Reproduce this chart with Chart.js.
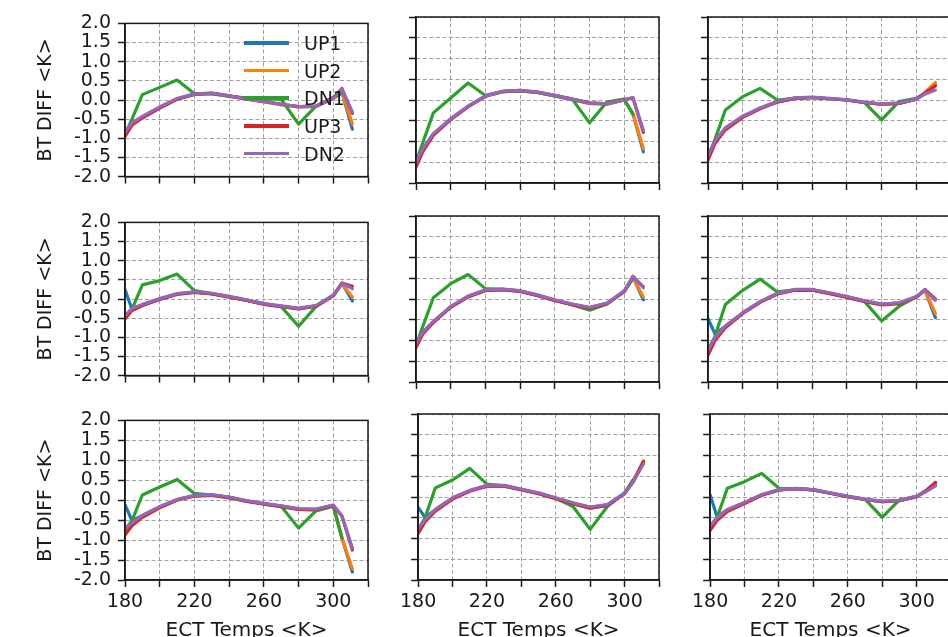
<!DOCTYPE html>
<html>
<head>
<meta charset="utf-8">
<title>BT DIFF panels</title>
<script src="https://cdn.jsdelivr.net/npm/chart.js@4.4.0/dist/chart.umd.min.js"></script>
<style>
  body {
    margin: 0;
    width: 948px;
    height: 637px;
    overflow: hidden;
    position: relative;
    background: #fff;
    font-family: "DejaVu Sans", sans-serif;
  }
  canvas.panel {
    position: absolute;
  }
  #legend {
    position: absolute;
    left: 244px;
    top: 29px;
    color: #1a1a1a;
    font-size: 19px;
  }
  #legend .row {
    display: flex;
    align-items: center;
    height: 27.7px;
  }
  #legend .swatch {
    width: 45px;
    height: 3.5px;
    margin-right: 15px;
  }
</style>
</head>
<body>
<div id="legend"></div>
<script>
// x positions of the samples (ECT temperature, K)
const temps = [180, 184, 190, 200, 210, 220, 230, 240, 250, 260, 270, 280, 290, 300, 305, 311];

const seriesNames = ["UP1", "UP2", "DN1", "UP3", "DN2"];
const seriesColors = ["#1f77b4", "#ff7f0e", "#2ca02c", "#d62728", "#9467bd"];

const xTickLabels = [180, 220, 260, 300];

// each panel: rows are UP1, UP2, DN1, UP3, DN2 (DN1 has no last sample)
const panelR1C1 = [
  [-0.86, -0.62, -0.45, -0.19, 0.03, 0.15, 0.17, 0.1, 0.03, -0.04, -0.12, -0.18, -0.17, 0.04, 0.2, -0.76],
  [-0.87, -0.62, -0.45, -0.2, 0.02, 0.14, 0.17, 0.1, 0.02, -0.05, -0.12, -0.18, -0.17, 0.05, 0.2, -0.62],
  [-0.9, -0.5, 0.14, 0.33, 0.52, 0.16, 0.16, 0.1, 0.05, 0.03, 0.02, -0.63, -0.16, 0.07, 0.17, null],
  [-0.95, -0.66, -0.47, -0.21, 0.02, 0.15, 0.18, 0.11, 0.03, -0.04, -0.11, -0.17, -0.16, 0.06, 0.3, -0.35],
  [-0.84, -0.6, -0.43, -0.18, 0.04, 0.16, 0.18, 0.11, 0.03, -0.04, -0.11, -0.17, -0.16, 0.05, 0.28, -0.32],
];
const panelR1C2 = [
  [-1.52, -1.18, -0.82, -0.46, -0.16, 0.09, 0.2, 0.22, 0.18, 0.1, 0.01, -0.08, -0.1, 0.0, -0.33, -1.25],
  [-1.53, -1.19, -0.83, -0.46, -0.16, 0.09, 0.2, 0.22, 0.18, 0.1, 0.01, -0.08, -0.1, 0.0, -0.33, -1.17],
  [-1.5, -1.02, -0.31, 0.05, 0.41, 0.11, 0.2, 0.22, 0.18, 0.1, 0.02, -0.55, -0.05, 0.02, -0.35, null],
  [-1.62, -1.24, -0.85, -0.47, -0.16, 0.1, 0.21, 0.23, 0.19, 0.11, 0.02, -0.07, -0.09, 0.01, 0.05, -0.78],
  [-1.5, -1.17, -0.81, -0.45, -0.15, 0.1, 0.21, 0.23, 0.19, 0.11, 0.02, -0.07, -0.09, 0.0, 0.06, -0.73],
];
const panelR1C3 = [
  [-1.35, -1.0, -0.69, -0.4, -0.2, -0.04, 0.04, 0.06, 0.03, 0.0, -0.06, -0.1, -0.08, 0.02, 0.16, 0.36],
  [-1.36, -1.01, -0.69, -0.41, -0.2, -0.04, 0.04, 0.06, 0.03, 0.0, -0.06, -0.1, -0.08, 0.02, 0.18, 0.42],
  [-1.4, -0.95, -0.24, 0.08, 0.28, 0.0, 0.04, 0.06, 0.03, 0.0, -0.06, -0.48, -0.04, 0.04, 0.16, null],
  [-1.45, -1.05, -0.72, -0.42, -0.21, -0.05, 0.04, 0.06, 0.03, 0.0, -0.06, -0.1, -0.08, 0.02, 0.17, 0.34],
  [-1.33, -0.99, -0.67, -0.39, -0.19, -0.03, 0.05, 0.07, 0.04, 0.01, -0.05, -0.09, -0.07, 0.02, 0.14, 0.24],
];
const panelR2C1 = [
  [0.25, -0.27, -0.16, 0.0, 0.13, 0.18, 0.14, 0.06, -0.03, -0.13, -0.19, -0.25, -0.18, 0.09, 0.41, -0.05],
  [-0.46, -0.27, -0.16, 0.0, 0.13, 0.18, 0.14, 0.06, -0.03, -0.13, -0.19, -0.25, -0.18, 0.09, 0.4, 0.05],
  [-0.46, -0.27, 0.37, 0.48, 0.65, 0.22, 0.14, 0.06, -0.03, -0.12, -0.2, -0.71, -0.2, 0.1, 0.4, null],
  [-0.52, -0.3, -0.17, -0.01, 0.12, 0.17, 0.13, 0.05, -0.04, -0.14, -0.2, -0.26, -0.19, 0.08, 0.42, 0.33],
  [-0.43, -0.25, -0.14, 0.01, 0.14, 0.19, 0.15, 0.07, -0.02, -0.12, -0.18, -0.24, -0.17, 0.1, 0.41, 0.27],
];
const panelR2C2 = [
  [-1.1, -0.8, -0.55, -0.19, 0.06, 0.21, 0.23, 0.19, 0.09, -0.03, -0.13, -0.21, -0.11, 0.19, 0.53, -0.02],
  [-1.1, -0.8, -0.55, -0.19, 0.06, 0.21, 0.23, 0.19, 0.09, -0.03, -0.13, -0.21, -0.11, 0.19, 0.52, 0.05],
  [-1.12, -0.65, 0.03, 0.37, 0.59, 0.25, 0.23, 0.19, 0.09, -0.03, -0.14, -0.27, -0.12, 0.18, 0.5, null],
  [-1.17, -0.84, -0.57, -0.2, 0.05, 0.2, 0.22, 0.18, 0.08, -0.04, -0.14, -0.22, -0.12, 0.18, 0.54, 0.29],
  [-1.08, -0.79, -0.54, -0.18, 0.07, 0.22, 0.24, 0.2, 0.1, -0.02, -0.12, -0.2, -0.1, 0.2, 0.55, 0.27],
];
const panelR2C3 = [
  [-0.47, -0.84, -0.66, -0.34, -0.07, 0.13, 0.22, 0.22, 0.14, 0.05, -0.05, -0.13, -0.1, 0.05, 0.22, -0.45],
  [-1.26, -0.94, -0.66, -0.34, -0.07, 0.13, 0.22, 0.22, 0.14, 0.05, -0.05, -0.13, -0.1, 0.05, 0.21, -0.35],
  [-1.24, -0.9, -0.13, 0.21, 0.48, 0.17, 0.22, 0.22, 0.14, 0.05, -0.05, -0.53, -0.18, 0.05, 0.22, null],
  [-1.36, -1.0, -0.69, -0.35, -0.08, 0.12, 0.21, 0.21, 0.13, 0.04, -0.06, -0.14, -0.11, 0.04, 0.23, 0.0],
  [-1.24, -0.93, -0.65, -0.33, -0.06, 0.14, 0.23, 0.23, 0.15, 0.06, -0.04, -0.12, -0.09, 0.06, 0.22, -0.03],
];
const panelR3C1 = [
  [-0.11, -0.51, -0.39, -0.17, 0.01, 0.11, 0.13, 0.07, -0.02, -0.09, -0.15, -0.22, -0.23, -0.13, -0.95, -1.8],
  [-0.75, -0.58, -0.39, -0.17, 0.01, 0.11, 0.13, 0.07, -0.02, -0.09, -0.15, -0.23, -0.24, -0.14, -0.95, -1.72],
  [-0.75, -0.51, 0.13, 0.33, 0.52, 0.17, 0.13, 0.07, -0.02, -0.09, -0.15, -0.7, -0.27, -0.15, -0.95, null],
  [-0.87, -0.64, -0.43, -0.19, 0.0, 0.1, 0.12, 0.06, -0.03, -0.1, -0.16, -0.23, -0.24, -0.14, -0.4, -1.25],
  [-0.71, -0.57, -0.38, -0.16, 0.02, 0.12, 0.14, 0.08, -0.01, -0.08, -0.14, -0.21, -0.22, -0.12, -0.39, -1.2],
];
const panelR3C2 = [
  [-0.25, -0.49, -0.31, -0.03, 0.15, 0.27, 0.27, 0.18, 0.09, -0.03, -0.15, -0.25, -0.19, 0.09, 0.37, 0.85],
  [-0.78, -0.55, -0.31, -0.03, 0.15, 0.26, 0.26, 0.18, 0.08, -0.04, -0.16, -0.27, -0.2, 0.09, 0.38, 0.87],
  [-0.8, -0.5, 0.22, 0.41, 0.69, 0.31, 0.27, 0.18, 0.09, -0.03, -0.23, -0.78, -0.23, 0.1, 0.42, null],
  [-0.88, -0.6, -0.34, -0.05, 0.14, 0.26, 0.26, 0.17, 0.08, -0.04, -0.16, -0.27, -0.2, 0.08, 0.37, 0.86],
  [-0.76, -0.55, -0.3, -0.02, 0.16, 0.28, 0.28, 0.19, 0.1, -0.02, -0.14, -0.24, -0.18, 0.09, 0.36, 0.8],
];
const panelR3C3 = [
  [0.05, -0.47, -0.31, -0.14, 0.05, 0.17, 0.2, 0.17, 0.09, 0.01, -0.06, -0.11, -0.09, 0.01, 0.13, 0.32],
  [-0.7, -0.51, -0.31, -0.14, 0.05, 0.17, 0.2, 0.17, 0.09, 0.01, -0.06, -0.11, -0.09, 0.01, 0.13, 0.35],
  [-0.7, -0.5, 0.21, 0.37, 0.57, 0.21, 0.2, 0.17, 0.09, 0.01, -0.05, -0.49, -0.07, 0.01, 0.14, null],
  [-0.8, -0.57, -0.35, -0.16, 0.04, 0.17, 0.2, 0.17, 0.09, 0.01, -0.06, -0.11, -0.09, 0.01, 0.14, 0.35],
  [-0.7, -0.5, -0.3, -0.13, 0.06, 0.18, 0.21, 0.18, 0.1, 0.02, -0.05, -0.1, -0.08, 0.02, 0.12, 0.27],
];

const panels = [
  [panelR1C1, panelR1C2, panelR1C3],
  [panelR2C1, panelR2C2, panelR2C3],
  [panelR3C1, panelR3C2, panelR3C3],
];

// plot-area geometry in page pixels
const colLeft = [125, 416, 708];
const rowTop = [17, 216, 414];
const plotW = 243;
const plotH = 166;

const textColor = "#1a1a1a";
const gridColor = "#a0a0a0";
const font = { family: "DejaVu Sans", size: 19 };
const xTitleFont = { family: "DejaVu Sans", size: 20 };

// matplotlib-like box around the plot area
const framePlugin = {
  id: "frame",
  afterDatasetsDraw(chart) {
    const { ctx, chartArea } = chart;
    ctx.save();
    ctx.strokeStyle = textColor;
    ctx.lineWidth = 1.5;
    ctx.strokeRect(chartArea.left, chartArea.top, chartArea.right - chartArea.left, chartArea.bottom - chartArea.top);
    ctx.restore();
  },
};

const makePanel = (row, col) => {
  const yW = col === 0 ? 125 : 20;
  const tPad = 12;
  const rPad = 14;
  const xH = row === 2 ? 70 : 12;

  const canvas = document.createElement("canvas");
  canvas.className = "panel";
  canvas.width = yW + plotW + rPad;
  canvas.height = tPad + plotH + xH;
  canvas.style.left = colLeft[col] - yW + "px";
  canvas.style.top = rowTop[row] - tPad + "px";
  document.body.appendChild(canvas);

  const values = panels[row][col];
  const datasets = values.map((vals, i) => ({
    label: seriesNames[i],
    data: temps.map((t, j) => ({ x: t, y: vals[j] })),
    borderColor: seriesColors[i],
    backgroundColor: seriesColors[i],
    borderWidth: 3.2,
    borderJoinStyle: "round",
    borderCapStyle: "round",
    pointRadius: 0,
    tension: 0,
    fill: false,
    spanGaps: false,
    order: 5 - i,
  }));

  new Chart(canvas, {
    type: "line",
    data: { datasets },
    options: {
      responsive: false,
      animation: false,
      events: [],
      layout: { padding: { top: tPad, right: rPad, left: 0, bottom: 0 } },
      plugins: {
        legend: { display: false },
        tooltip: { enabled: false },
      },
      scales: {
        x: {
          type: "linear",
          min: 180,
          max: 320,
          afterFit: (scale) => {
            scale.height = xH;
          },
          ticks: {
            stepSize: 20,
            display: row === 2,
            autoSkip: false,
            maxRotation: 0,
            padding: 4,
            color: textColor,
            font,
            callback: (v) => (xTickLabels.includes(v) ? String(v) : ""),
          },
          grid: { color: gridColor, lineWidth: 1, tickLength: 7, tickColor: textColor, tickWidth: 1.5 },
          border: { display: true, color: textColor, width: 1.5, dash: [4, 2.5] },
          title: {
            display: row === 2,
            text: "ECT Temps <K>",
            color: textColor,
            font: xTitleFont,
            padding: { top: 0, bottom: 7 },
          },
        },
        y: {
          min: -2,
          max: 2,
          afterFit: (scale) => {
            scale.width = yW;
          },
          ticks: {
            stepSize: 0.5,
            display: col === 0,
            autoSkip: false,
            padding: 7,
            color: textColor,
            font,
            callback: (v) => Number(v).toFixed(1),
          },
          grid: { color: gridColor, lineWidth: 1, tickLength: 7, tickColor: textColor, tickWidth: 1.5 },
          border: { display: true, color: textColor, width: 1.5, dash: [4, 2.5] },
          title: {
            display: col === 0,
            text: "BT DIFF <K>",
            color: textColor,
            font,
            padding: { top: 35, bottom: 0 },
          },
        },
      },
    },
    plugins: [framePlugin],
  });
};

const renderLegend = () => {
  const legend = document.getElementById("legend");
  seriesNames.forEach((name, i) => {
    const row = document.createElement("div");
    row.className = "row";
    const swatch = document.createElement("span");
    swatch.className = "swatch";
    swatch.style.background = seriesColors[i];
    const label = document.createElement("span");
    label.textContent = name;
    row.appendChild(swatch);
    row.appendChild(label);
    legend.appendChild(row);
  });
};

document.addEventListener("DOMContentLoaded", () => {
  for (let row = 0; row < 3; row++) {
    for (let col = 0; col < 3; col++) {
      makePanel(row, col);
    }
  }
  // legend sits above the first panel
  document.body.appendChild(document.getElementById("legend"));
  renderLegend();
});
</script>
</body>
</html>
